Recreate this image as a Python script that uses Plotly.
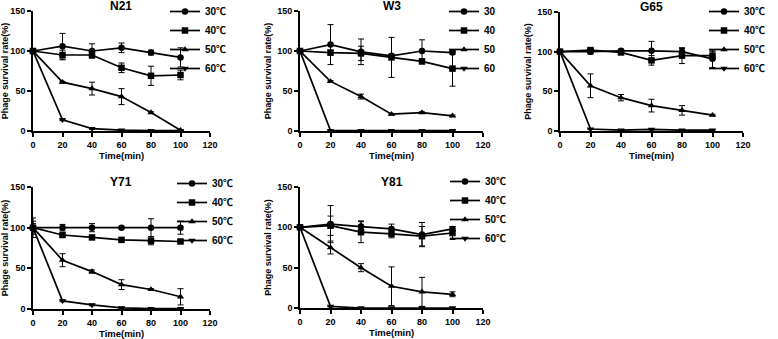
import plotly.graph_objects as go

time_min = [0, 20, 40, 60, 80, 100]

# N21
n21_30 = [100, 106, 100, 104, 98, 92]
n21_30_err = [0, 16, 9, 6, 3, 12]
n21_40 = [100, 95, 95, 79, 69, 70]
n21_40_err = [0, 6, 2, 6, 12, 6]
n21_50 = [100, 61, 53, 43, 23, 1]
n21_50_err = [0, 1, 8, 10, 1, 0.5]
n21_60 = [100, 14, 3, 1, 0.5, 0.5]
n21_60_err = [0, 1, 1, 0.5, 0, 0]

# W3
w3_30 = [100, 108, 99, 94, 100, 98]
w3_30_err = [0, 25, 16, 2, 14, 2]
w3_40 = [100, 98, 97, 92, 87, 78]
w3_40_err = [0, 3, 9, 25, 3, 22]
w3_50 = [100, 62, 43, 21, 23, 19]
w3_50_err = [0, 1, 3, 1, 1, 1]
w3_60 = [100, 0.5, 0.5, 0.5, 0.5, 0.5]
w3_60_err = [0, 0, 0, 0, 0, 0]

# G65
g65_30 = [100, 100, 101, 101, 100, 91]
g65_30_err = [0, 3, 2, 12, 4, 11]
g65_40 = [100, 102, 99, 89, 95, 95]
g65_40_err = [0, 2, 2, 6, 10, 5]
g65_50 = [100, 57, 42, 32, 26, 20]
g65_50_err = [0, 15, 4, 8, 6, 1]
g65_60 = [100, 2.5, 1, 2, 1, 1]
g65_60_err = [0, 0.5, 0.5, 0.5, 0.5, 0.5]

# Y71
y71_30 = [100, 100, 100, 100, 100, 100]
y71_30_err = [12, 4, 5, 1, 11, 8]
y71_40 = [100, 91, 88, 85, 84, 83]
y71_40_err = [5, 2, 2, 1, 5, 1]
y71_50 = [100, 60, 46, 30, 24, 15]
y71_50_err = [8, 8, 2, 6, 1, 10]
y71_60 = [100, 10, 5, 1.5, 0.5, 0.5]
y71_60_err = [0, 1, 1, 1, 0, 0]

# Y81
y81_30 = [100, 104, 101, 98, 91, 98]
y81_30_err = [0, 23, 7, 6, 15, 3]
y81_40 = [100, 102, 94, 92, 89, 93]
y81_40_err = [0, 12, 13, 5, 12, 8]
y81_50 = [100, 75, 50, 27, 20, 17]
y81_50_err = [0, 8, 5, 24, 18, 3]
y81_60 = [100, 2, 0, 0, 0, 0]
y81_60_err = [0, 0.5, 0, 0, 0, 0]

labels_c = ["30℃", "40℃", "50℃", "60℃"]
labels_plain = ["30", "40", "50", "60"]
symbols = ["circle", "square", "triangle-up", "triangle-down"]

panels = [
    ("N21", [n21_30, n21_40, n21_50, n21_60], [n21_30_err, n21_40_err, n21_50_err, n21_60_err], labels_c),
    ("W3", [w3_30, w3_40, w3_50, w3_60], [w3_30_err, w3_40_err, w3_50_err, w3_60_err], labels_plain),
    ("G65", [g65_30, g65_40, g65_50, g65_60], [g65_30_err, g65_40_err, g65_50_err, g65_60_err], labels_c),
    ("Y71", [y71_30, y71_40, y71_50, y71_60], [y71_30_err, y71_40_err, y71_50_err, y71_60_err], labels_c),
    ("Y81", [y81_30, y81_40, y81_50, y81_60], [y81_30_err, y81_40_err, y81_50_err, y81_60_err], labels_c),
]

W, H = 778, 339
# pixel boxes of plot areas (x0, x1, ytop, ybottom)
boxes = [(33, 210, 11, 131), (300, 483, 11, 131), (560, 743, 12, 131),
         (33, 210, 187, 309), (300, 483, 187, 308)]
# legend anchor positions (px)
legend_pos = [(165, -3), (444, -3), (704, -3), (172, 169), (445, 167)]

FONT = "Liberation Sans, Arial, DejaVu Sans, sans-serif"
LEG_FONT = "Liberation Sans, Arial, Noto Sans CJK SC, sans-serif"

fig = go.Figure()
layout = dict(
    width=W, height=H, margin=dict(l=0, r=0, t=0, b=0, autoexpand=False),
    paper_bgcolor="white", plot_bgcolor="white", showlegend=True,
    font=dict(family=FONT, color="black", size=9, weight="bold"),
    annotations=[],
)

for i, (name, series, errs, labels) in enumerate(panels):
    k = "" if i == 0 else str(i + 1)
    leg = "legend" if i == 0 else f"legend{i + 1}"
    for s, e, lab, sym in zip(series, errs, labels, symbols):
        fig.add_trace(go.Scatter(
            x=time_min, y=s, name=lab, mode="lines+markers",
            xaxis="x" + k, yaxis="y" + k, legend=leg,
            line=dict(color="black", width=1.7),
            marker=dict(symbol=sym, size=6.5, color="black"),
            error_y=dict(type="data", array=e, visible=True, color="black",
                         thickness=1, width=3),
            cliponaxis=False,
        ))
    x0, x1, yt, yb = boxes[i]
    ax = dict(
        domain=[x0 / W, x1 / W], range=[0, 120], dtick=20, tick0=0,
        showline=True, linecolor="black", linewidth=1.6,
        ticks="outside", ticklen=4, tickwidth=1.6, tickcolor="black",
        showgrid=False, zeroline=False,
        tickfont=dict(size=9, family=FONT, weight="bold"),
        anchor="y" + k,
    )
    ay = dict(
        domain=[1 - yb / H, 1 - yt / H], range=[0, 150], dtick=50, tick0=0,
        showline=True, linecolor="black", linewidth=1.6,
        ticks="outside", ticklen=4, tickwidth=1.6, tickcolor="black",
        showgrid=False, zeroline=False,
        tickfont=dict(size=9, family=FONT, weight="bold"),
        title=dict(text="Phage survival rate(%)", font=dict(size=9, family=FONT, weight="bold"), standoff=4),
        anchor="x" + k,
    )
    layout["xaxis" + k] = ax
    layout["yaxis" + k] = ay
    layout["annotations"].append(dict(
        text=name, x=(x0 + x1) / 2 / W, y=1 - (yt - 5) / H, xref="paper", yref="paper",
        xanchor="center", yanchor="middle", showarrow=False,
        font=dict(size=12, family=FONT, weight="bold", color="black"),
    ))
    layout["annotations"].append(dict(
        text="Time(min)", x=(x0 + x1) / 2 / W, y=1 - (yb + 24) / H, xref="paper", yref="paper",
        xanchor="center", yanchor="middle", showarrow=False,
        font=dict(size=9.5, family=FONT, weight="bold", color="black"),
    ))
    lx, ly = legend_pos[i]
    layout[leg] = dict(
        x=lx / W, y=1 - ly / H, xanchor="left", yanchor="top",
        bgcolor="rgba(0,0,0,0)", borderwidth=0,
        font=dict(size=10, family=LEG_FONT, weight="bold", color="black"),
        itemwidth=30, tracegroupgap=0,
    )

fig.update_layout(**layout)
fig.write_html("out.html", config={"displayModeBar": False},
               post_script="document.body.style.margin='0';document.body.style.overflow='hidden';")
